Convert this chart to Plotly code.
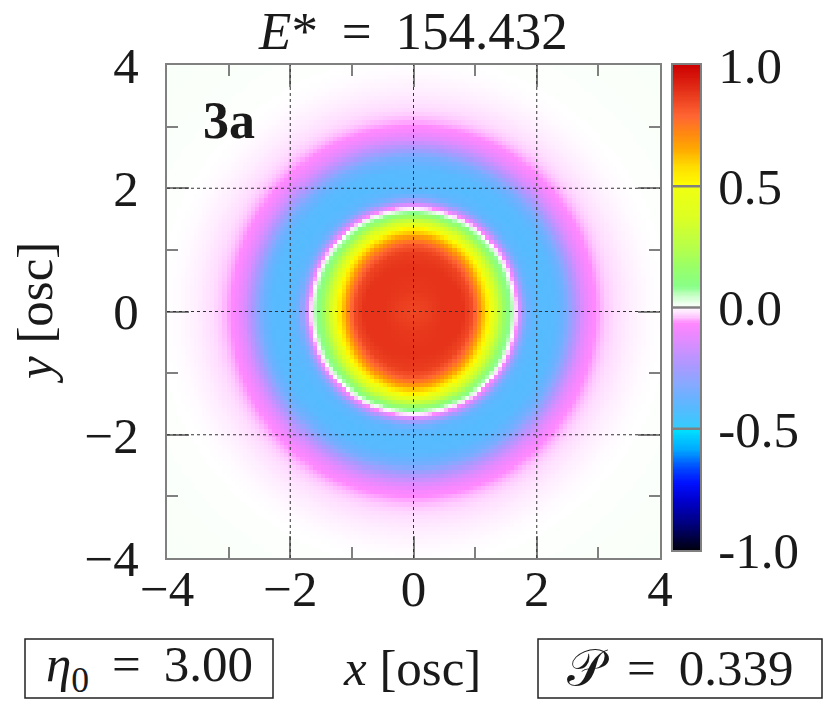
import numpy as np
import plotly.graph_objects as go

# ---- data ----
# radial profile of the field along the x axis (horizontal)
r_x = [0.0, 0.25, 0.5, 0.8, 0.95, 1.03, 1.1, 1.18, 1.27, 1.35, 1.43, 1.52, 1.6, 1.65, 1.7,
       1.76, 1.83, 1.92, 2.1, 2.3, 2.45, 2.6, 2.75, 2.9, 3.05, 3.25, 3.5, 3.8, 4.2, 4.8, 5.7]
z_x = [0.85, 0.87, 0.89, 0.89, 0.84, 0.76, 0.67, 0.57, 0.47, 0.34, 0.22, 0.12, 0.06, 0.0, -0.08,
       -0.22, -0.34, -0.40, -0.42, -0.41, -0.36, -0.25, -0.14, -0.075, -0.048, -0.025, -0.012, -0.003, 0.002, 0.004, 0.006]
# radial profile along the y axis (vertical)
r_y = [0.0, 0.35, 0.7, 0.95, 1.07, 1.15, 1.22, 1.3, 1.38, 1.46, 1.53, 1.59, 1.63, 1.66, 1.71,
       1.77, 1.84, 1.93, 2.1, 2.3, 2.5, 2.65, 2.8, 2.95, 3.1, 3.3, 3.55, 3.85, 4.2, 4.8, 5.7]
z_y = [0.85, 0.88, 0.89, 0.87, 0.82, 0.75, 0.67, 0.57, 0.47, 0.32, 0.19, 0.10, 0.04, 0.0, -0.08,
       -0.22, -0.34, -0.40, -0.42, -0.41, -0.35, -0.24, -0.14, -0.075, -0.048, -0.025, -0.012, -0.003, 0.002, 0.004, 0.006]

x_ticks = [-4, -2, 0, 2, 4]
grid_vals = [-2, 0, 2]
cbar_ticks = [-1.0, -0.5, 0.0, 0.5, 1.0]
cbar_text = ["-1.0", "-0.5", "0.0", "0.5", "1.0"]
cbar_sep = [-0.5, 0.0, 0.5]

title_text = "<i>E</i>* \u2009=\u2009 154.432"
panel_label = "<b>3a</b>"
eta_text = "<i>η</i><sub>0</sub> \u2009=\u2009 3.00"
p_text = "𝒫 \u2009=\u2009 0.339"

# ---- build the grid from the profiles ----
n = 121
xs = np.linspace(-4, 4, n)
ys = np.linspace(-4, 4, n)
X, Y = np.meshgrid(xs, ys)
R = np.hypot(X, Y)
c2 = np.where(R > 0, (X / np.where(R > 0, R, 1)) ** 2, 0.5)
Z = c2 * np.interp(R, r_x, z_x) + (1 - c2) * np.interp(R, r_y, z_y)

colorscale = [
    [0.0, "#000010"], [0.055, "#000080"], [0.103, "#0000d0"], [0.1375, "#0010ff"],
    [0.172, "#0050ff"], [0.206, "#00a8ff"], [0.2499, "#00e5ff"], [0.25, "#33ccff"],
    [0.31, "#66b3ff"], [0.345, "#8aa8ff"], [0.378, "#aa99ff"], [0.4125, "#cc90ff"],
    [0.4465, "#ee88ff"], [0.4675, "#ff88ff"], [0.481, "#ffccff"], [0.495, "#fff0ff"],
    [0.5, "#ffffff"], [0.505, "#f4fff4"], [0.5225, "#ccffcc"], [0.543, "#88ff88"],
    [0.584, "#99ff66"], [0.6185, "#b3ff4d"], [0.687, "#ddff22"], [0.7499, "#f0ff10"],
    [0.75, "#ffff00"], [0.79, "#ffdd00"], [0.825, "#ffaa00"], [0.859, "#ff8811"],
    [0.8935, "#ff6633"], [0.928, "#ee4422"], [0.962, "#dd2211"], [1.0, "#cc0000"],
]

FONT = "Liberation Serif"
FS = 51
GRAY = "#808080"
TXT = "#1a1a1a"

W, H = 831, 707
ML, MT = 167, 65
MR, MB = 131, 149
PW = W - ML - MR
PH = H - MT - MB


def px(x):
    return (x - ML) / PW


def py(y):
    return (H - MB - y) / PH


fig = go.Figure()
fig.add_trace(go.Heatmap(x=xs, y=ys, z=Z, zmin=-1, zmax=1, colorscale=colorscale,
                         showscale=False, hoverinfo="skip"))

levels = np.linspace(-1, 1, 401)
fig.add_trace(go.Heatmap(x=[0], y=levels, z=[[v] for v in levels], zmin=-1, zmax=1,
                         colorscale=colorscale, showscale=False, xaxis="x2", yaxis="y2",
                         hoverinfo="skip"))

axis_common = dict(range=[-4, 4], tickvals=x_ticks, ticks="inside", ticklen=22, tickwidth=2,
                   tickcolor=GRAY, showline=True, linecolor=GRAY, linewidth=2, mirror="allticks",
                   showgrid=False, zeroline=False,
                   minor=dict(dtick=1, ticks="inside", ticklen=11, tickwidth=2, tickcolor=GRAY),
                   tickfont=dict(family=FONT, size=FS, color=TXT))

fig.update_layout(
    width=W, height=H, margin=dict(l=ML, r=MR, t=MT, b=MB),
    paper_bgcolor="white", plot_bgcolor="white", showlegend=False,
    xaxis=dict(domain=[0, 493 / PW], anchor="y", ticklabelstandoff=-15, **axis_common),
    yaxis=dict(domain=[0, 1], anchor="x", ticklabelstandoff=16, **axis_common),
    xaxis2=dict(domain=[px(673), 1.0], anchor="y2", range=[-0.5, 0.5], showticklabels=False,
                ticks="", showline=True, linecolor=GRAY, linewidth=2, mirror=True,
                showgrid=False, zeroline=False),
    yaxis2=dict(domain=[py(550), 1.0], anchor="x2", side="right", range=[-1, 1],
                tickvals=cbar_ticks, ticktext=cbar_text, ticks="", ticklabelstandoff=6,
                showline=True, linecolor=GRAY, linewidth=2,
                mirror=True, showgrid=False, zeroline=False,
                tickfont=dict(family=FONT, size=FS, color=TXT)),
)

shapes = []
for v in grid_vals:
    shapes.append(dict(type="line", xref="x", yref="y", x0=v, x1=v, y0=-4, y1=4, layer="above",
                       line=dict(color="#333333", width=1, dash="3px,3px")))
    shapes.append(dict(type="line", xref="x", yref="y", x0=-4, x1=4, y0=v, y1=v, layer="above",
                       line=dict(color="#333333", width=1, dash="3px,3px")))
for v in cbar_sep:
    shapes.append(dict(type="line", xref="x2 domain", yref="y2", x0=0, x1=1, y0=v, y1=v,
                       layer="above", line=dict(color=GRAY, width=2.5)))
# boxes around the bottom labels
shapes.append(dict(type="rect", xref="paper", yref="paper", x0=px(25), x1=px(273),
                   y0=py(698), y1=py(639), line=dict(color="#222222", width=1.5)))
shapes.append(dict(type="rect", xref="paper", yref="paper", x0=px(538), x1=px(822),
                   y0=py(698), y1=py(639), line=dict(color="#222222", width=1.5)))
fig.update_layout(shapes=shapes)

font = dict(family=FONT, size=FS, color=TXT)
annotations = [
    dict(text=title_text, xref="paper", yref="paper", x=px(413), y=py(31.5), showarrow=False,
         xanchor="center", yanchor="middle", font=dict(family=FONT, size=53, color=TXT)),
    dict(text=panel_label, xref="x", yref="y", x=-3.0, y=3.1, showarrow=False,
         xanchor="center", yanchor="middle", font=dict(family=FONT, size=52, color=TXT)),
    dict(text="<i>x</i> [osc]", xref="paper", yref="paper", x=px(412), y=py(668),
         showarrow=False, xanchor="center", yanchor="middle", font=font),
    dict(text="<i>y</i> [osc]", xref="paper", yref="paper", x=px(35), y=py(313),
         showarrow=False, xanchor="center", yanchor="middle", textangle=-90, font=font),
    dict(text=eta_text, xref="paper", yref="paper", x=px(149), y=py(668), showarrow=False,
         xanchor="center", yanchor="middle", font=font),
    dict(text=p_text, xref="paper", yref="paper", x=px(680), y=py(668), showarrow=False,
         xanchor="center", yanchor="middle", font=font),
]
fig.update_layout(annotations=annotations)

fig.write_html("out.html", config={"displayModeBar": False},
               post_script="document.body.style.margin='0';document.body.style.overflow='hidden';")
